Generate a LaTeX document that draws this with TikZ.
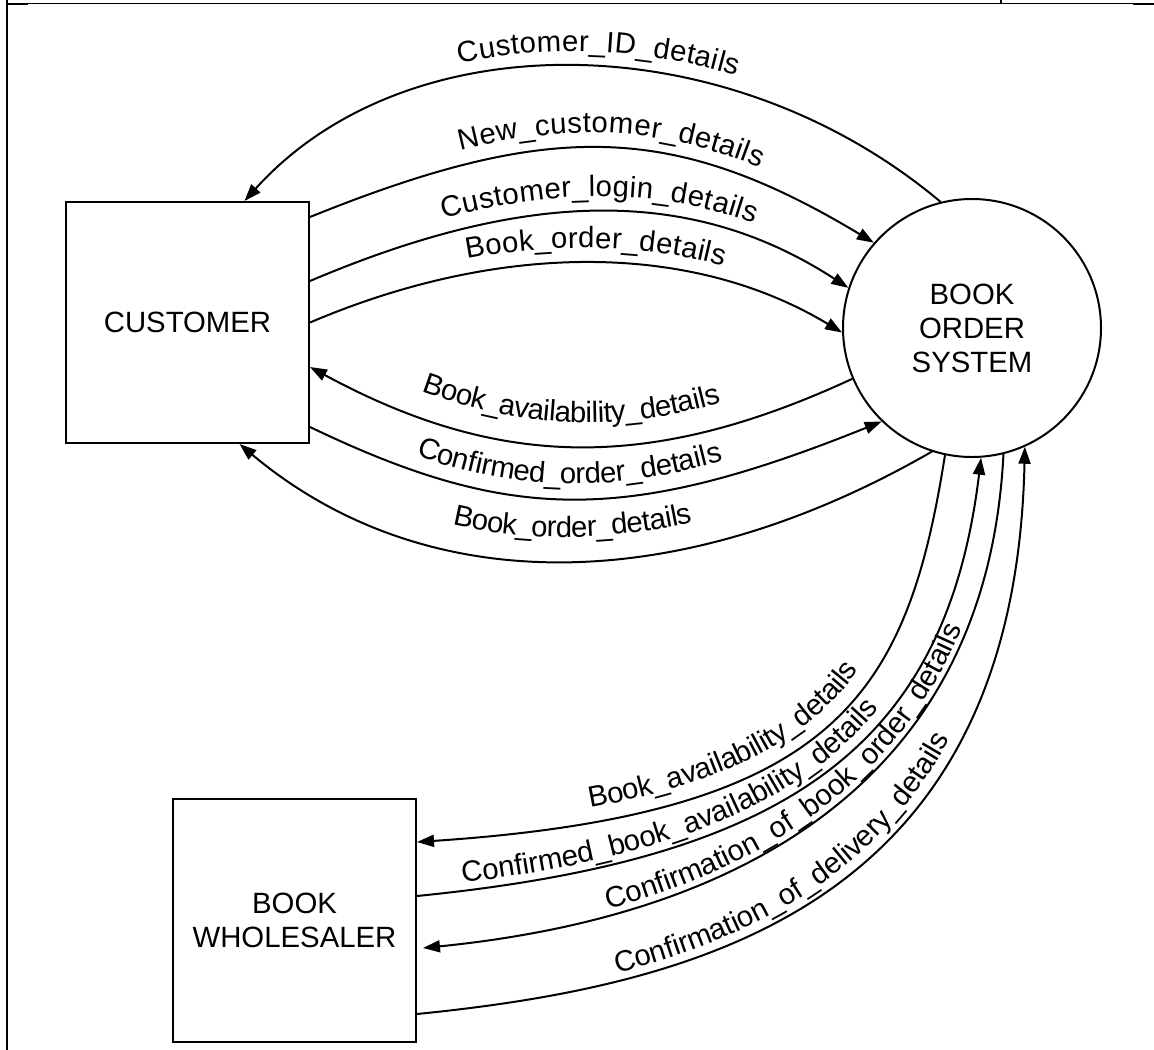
\documentclass[tikz,border=0pt]{standalone}
\usepackage{fontspec}
\setmainfont{Liberation Sans}
\usetikzlibrary{arrows.meta,decorations.text}
\newlength{\du}
\setlength{\du}{0.75pt}
\newcommand{\boxfont}{\fontsize{22}{25.5}\selectfont}
\newcommand{\lblfont}{\fontsize{22}{25.5}\selectfont}
\tikzset{
  entity/.style={draw, line width=2\du, minimum width=243\du, minimum height=241\du, inner sep=0pt, align=center, font=\boxfont},
  process/.style={draw, circle, line width=2\du, minimum size=258\du, inner sep=0pt, align=center, font=\boxfont},
  flowlabel/.style n args={4}{postaction={decorate, decoration={text along path, text={|\lblfont|#1}, text align={center, left indent=#2, right indent=#3}, raise=#4}}},
  whslabel/.style n args={3}{postaction={decorate, decoration={text along path, text={|\lblfont|#1}, text align={left indent=#2}, raise=#3}}},
}
\begin{document}
\begin{tikzpicture}[line width=2\du, >={Triangle[length=12.75pt,width=9pt]}]
\useasboundingbox (0,0) rectangle (1154\du,-1050\du);
% frame
\draw (6.5\du,0) -- (6.5\du,-1050\du);
\draw[line width=1\du] (7\du,-3.5\du) -- (1154\du,-3.5\du);
\draw[line width=2.5\du] (7\du,-4\du) -- (28\du,-4\du);
\draw[line width=2.5\du] (1133\du,-4\du) -- (1154\du,-4\du);
\draw[line width=1.5\du] (1001\du,0) -- (1001\du,-4\du);
% entities and process
\node[entity] (cust) at (187.5\du,-322.5\du) {CUSTOMER};
\node[entity, minimum height=243\du] (whs) at (294.5\du,-920.5\du) {BOOK\\WHOLESALER};
\node[process] (bos) at (972\du,-328\du) {BOOK\\ORDER\\SYSTEM};
% customer <-> book order system
\draw[<-, flowlabel={Customer{\_}ID{\_}details}{16\du}{0pt}{15\du}] ([xshift=57\du]cust.north) .. controls +(163\du,181\du) and +(-213\du,179\du) .. (bos.104);
\draw[->, flowlabel={New{\_}customer{\_}details}{28\du}{0pt}{15\du}] ([yshift=-16\du]cust.north east) .. controls +(240\du,97\du) and +(-201\du,121\du) .. (bos.139);
\draw[->, flowlabel={Customer{\_}login{\_}details}{34\du}{0pt}{15\du}] ([yshift=-80\du]cust.north east) .. controls +(221\du,94\du) and +(-154\du,100\du) .. (bos.162);
\draw[->, flowlabel={Book{\_}order{\_}details}{34\du}{0pt}{15\du}] (cust.east) .. controls +(190\du,81\du) and +(-151\du,91\du) .. (bos.182);
\draw[<-, flowlabel={Book{\_}availability{\_}details}{0pt}{20\du}{24\du}] ([yshift=-166\du]cust.north east) .. controls +(190\du,-103\du) and +(-201\du,-93\du) .. (bos.203);
\draw[->, flowlabel={Confirmed{\_}order{\_}details}{0pt}{54\du}{15\du}] ([yshift=-226\du]cust.north east) .. controls +(200\du,-96\du) and +(-256\du,-103\du) .. (bos.226);
\draw[<-, flowlabel={Book{\_}order{\_}details}{0pt}{18\du}{24\du}] ([xshift=52\du]cust.south) .. controls +(185\du,-155\du) and +(-255\du,-147\du) .. (bos.252.5);
% wholesaler <-> book order system
\draw[<-, whslabel={Book{\_}availability{\_}details}{177\du}{14\du}] ([yshift=-44\du]whs.north east) .. controls +(420\du,28\du) and +(-38\du,-240\du) .. (bos.258);
\draw[->, whslabel={Confirmed{\_}book{\_}availability{\_}details}{47\du}{8\du}] ([yshift=-98\du]whs.north east) .. controls +(370\du,37\du) and +(-35\du,-290\du) .. (bos.274);
\draw[<-, whslabel={Confirmation{\_}of{\_}book{\_}order{\_}details}{190\du}{5\du}] ([xshift=6\du,yshift=-150\du]whs.north east) .. controls +(300\du,30\du) and +(-17\du,-340\du) .. (bos.284);
\draw[->, whslabel={Confirmation{\_}of{\_}delivery{\_}details}{205\du}{8\du}] ([yshift=-216\du]whs.north east) .. controls +(300\du,30\du) and +(-10\du,-450\du) .. (bos.294);
\end{tikzpicture}
\end{document}
